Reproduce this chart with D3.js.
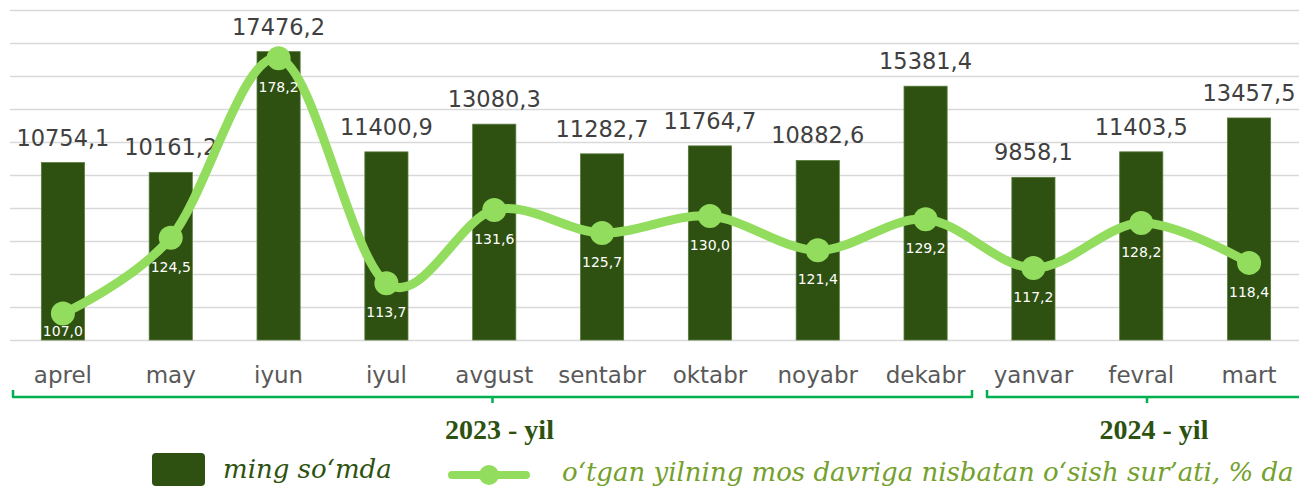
<!DOCTYPE html>
<html>
<head>
<meta charset="utf-8">
<script src="https://cdn.jsdelivr.net/npm/d3@7"></script>
<style>
  html, body { margin: 0; padding: 0; background: #fff; }
  svg { display: block; }
  .grid line { stroke: #d9d9d9; stroke-width: 1.5; }
  .grid path { display: none; }
  .cat text { font-family: "DejaVu Sans", sans-serif; font-size: 23px; fill: #595959; }
  .cat path { display: none; }
  .bar-label { font-family: "DejaVu Sans", sans-serif; font-size: 22.5px; fill: #404040; text-anchor: middle; }
  .line-label { font-family: "DejaVu Sans", sans-serif; font-size: 14px; fill: #fff; text-anchor: middle; }
  .year { font-family: "Liberation Serif", serif; font-weight: bold; font-size: 28px; fill: #2d5210; text-anchor: middle; }
  .legend-text { font-family: "DejaVu Serif", serif; font-style: italic; font-size: 26px; }
</style>
</head>
<body>
<div id="chart"></div>
<script>
var months = ["aprel", "may", "iyun", "iyul", "avgust", "sentabr", "oktabr", "noyabr", "dekabr", "yanvar", "fevral", "mart"];
var amounts = [10754.1, 10161.2, 17476.2, 11400.9, 13080.3, 11282.7, 11764.7, 10882.6, 15381.4, 9858.1, 11403.5, 13457.5];
var growth = [107.0, 124.5, 178.2, 113.7, 131.6, 125.7, 130.0, 121.4, 129.2, 117.2, 128.2, 118.4];
var years = [
    { label: "2023 - yil", from: 0, to: 8 },
    { label: "2024 - yil", from: 9, to: 11 }
];
var barName = "ming so‘mda";
var lineName = "o‘tgan yilning mos davriga nisbatan o‘sish sur’ati, % da";

(function() {
    var width = 1299, height = 489;
    var plotLeft = 9, plotRight = 1303, plotTop = 10, plotBottom = 340;
    var barColor = "#2e5111", lineColor = "#92dc5e";

    var fmt = function(v) { return v.toFixed(1).replace(".", ","); };

    var svg = d3.select("#chart").append("svg")
        .attr("width", width)
        .attr("height", height);

    var x = d3.scaleBand()
        .domain(months)
        .range([plotLeft, plotRight])
        .paddingInner(0.6)
        .paddingOuter(0.3);

    var y = d3.scaleLinear()
        .domain([0, 20000])
        .range([plotBottom, plotTop]);

    // secondary axis is logarithmic in the original
    var y2 = d3.scaleLog()
        .domain([101.5, 196.2])
        .range([plotBottom, plotTop]);

    var cx = function(i) { return x(months[i]) + x.bandwidth() / 2; };

    // gridlines
    svg.append("g")
        .attr("class", "grid")
        .attr("transform", "translate(10,0)")
        .call(d3.axisLeft(y).ticks(10).tickSize(-(width - 10)).tickFormat(""));

    // bars
    svg.selectAll("rect.bar")
        .data(amounts)
        .join("rect")
        .attr("class", "bar")
        .attr("x", function(d, i) { return x(months[i]); })
        .attr("y", function(d) { return y(d); })
        .attr("width", x.bandwidth())
        .attr("height", function(d) { return plotBottom - y(d); })
        .attr("fill", barColor)
        .attr("stroke", "#577a3a")
        .attr("stroke-width", 0.8);

    svg.selectAll("text.bar-label")
        .data(amounts)
        .join("text")
        .attr("class", "bar-label")
        .attr("x", function(d, i) { return cx(i); })
        .attr("y", function(d) { return y(d) - 17; })
        .text(fmt);

    // category axis
    var cat = svg.append("g")
        .attr("class", "cat")
        .attr("transform", "translate(0," + plotBottom + ")")
        .call(d3.axisBottom(x).tickSize(0));
    cat.selectAll("text").attr("y", 43).attr("dy", null);

    // line
    var line = d3.line()
        .x(function(d, i) { return cx(i); })
        .y(function(d) { return y2(d); })
        .curve(d3.curveCardinal.tension(0));

    svg.append("path")
        .datum(growth)
        .attr("d", line)
        .attr("fill", "none")
        .attr("stroke", lineColor)
        .attr("stroke-width", 9)
        .attr("stroke-linecap", "round");

    svg.selectAll("circle.pt")
        .data(growth)
        .join("circle")
        .attr("class", "pt")
        .attr("cx", function(d, i) { return cx(i); })
        .attr("cy", function(d) { return y2(d); })
        .attr("r", 12)
        .attr("fill", lineColor);

    svg.selectAll("text.line-label")
        .data(growth)
        .join("text")
        .attr("class", "line-label")
        .attr("x", function(d, i) { return cx(i); })
        .attr("y", function(d) { return Math.min(y2(d) + 34, plotBottom - 4); })
        .text(fmt);

    // year brackets
    var step = x.step(), last = months.length - 1;
    years.forEach(function(g) {
        var x0 = x(months[g.from]) - step * 0.3 + (g.from === 0 ? 4 : 7.5);
        var x1 = x(months[g.to]) + x.bandwidth() + step * 0.3 + (g.to === last ? 4 : -7.5);
        var mid = (x0 + x1) / 2;
        svg.append("path")
            .attr("d", "M" + x0 + ",390 V397 H" + x1 + " V390 M" + mid + ",397 V403")
            .attr("fill", "none")
            .attr("stroke", "#00b050")
            .attr("stroke-width", 2.5)
            .attr("stroke-linejoin", "round");
        svg.append("text")
            .attr("class", "year")
            .attr("x", mid + 7)
            .attr("y", 439)
            .text(g.label);
    });

    // legend
    svg.append("rect")
        .attr("x", 152).attr("y", 453)
        .attr("width", 53).attr("height", 33)
        .attr("rx", 4)
        .attr("fill", barColor);
    svg.append("text")
        .attr("class", "legend-text")
        .attr("x", 223).attr("y", 478)
        .attr("fill", "#2d5210")
        .text(barName);

    svg.append("line")
        .attr("x1", 452).attr("x2", 526)
        .attr("y1", 475).attr("y2", 475)
        .attr("stroke", lineColor)
        .attr("stroke-width", 8)
        .attr("stroke-linecap", "round");
    svg.append("circle")
        .attr("cx", 489).attr("cy", 475)
        .attr("r", 10)
        .attr("fill", lineColor);
    svg.append("text")
        .attr("class", "legend-text")
        .attr("x", 562).attr("y", 481)
        .attr("fill", "#74a02c")
        .text(lineName);
})();
</script>
</body>
</html>
